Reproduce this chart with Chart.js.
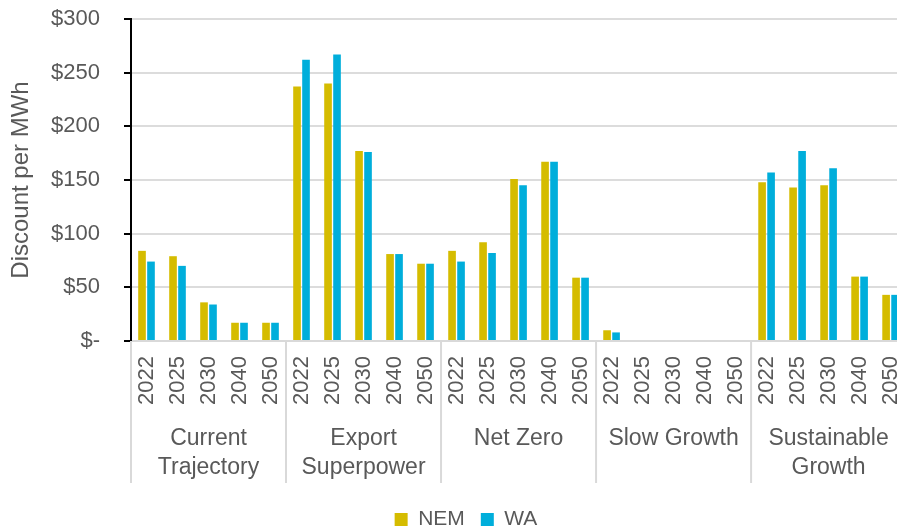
<!DOCTYPE html>
<html>
<head>
<meta charset="utf-8">
<script src="https://cdn.jsdelivr.net/npm/chart.js@4.4.1/dist/chart.umd.min.js"></script>
<style>
  html, body { margin: 0; padding: 0; background: #fff; overflow: hidden; width: 897px; height: 531px; }
  #wrap { width: 932px; height: 540px; position: relative; }
</style>
</head>
<body>
<div id="wrap"><canvas id="chart"></canvas></div>
<script>
const years = ['2022', '2025', '2030', '2040', '2050'];
const scenarios = [['Current', 'Trajectory'], ['Export', 'Superpower'], ['Net Zero'], ['Slow Growth'], ['Sustainable', 'Growth']];
const nem = [84, 79, 36, 17, 17, 237, 240, 177, 81, 72, 84, 92, 151, 167, 59, 10, 0, 0, 0, 0, 148, 143, 145, 60, 43];
const wa = [74, 70, 34, 17, 17, 262, 267, 176, 81, 72, 74, 82, 145, 167, 59, 8, 0, 0, 0, 0, 157, 177, 161, 60, 43];
const yTicks = [0, 50, 100, 150, 200, 250, 300];

// one year label per bar pair, repeated for each scenario
let labels = [];
scenarios.forEach(() => years.forEach(y => labels.push(y)));

const grey = '#595959';
Chart.defaults.font.family = "'Liberation Sans', Arial, sans-serif";
Chart.defaults.color = grey;

// scenario names and separators under the year labels
const groupLabels = {
    id: 'groupLabels',
    afterDraw(chart) {
        const x = chart.scales.x;
        const ctx = chart.ctx;
        const catW = x.getPixelForValue(1) - x.getPixelForValue(0);
        const top = x.top;
        ctx.save();
        ctx.strokeStyle = '#d9d9d9';
        ctx.lineWidth = 2;
        for (let g = 0; g <= scenarios.length; g++) {
            const bx = x.getPixelForValue(g * years.length) - catW / 2;
            ctx.beginPath();
            ctx.moveTo(bx, top);
            ctx.lineTo(bx, top + 142);
            ctx.stroke();
        }
        ctx.fillStyle = grey;
        ctx.font = "23px 'Liberation Sans', Arial, sans-serif";
        ctx.textAlign = 'center';
        ctx.textBaseline = 'middle';
        scenarios.forEach((lines, g) => {
            const cx = x.getPixelForValue(g * years.length + 2);
            lines.forEach((t, i) => ctx.fillText(t, cx, top + 98 + i * 29));
        });
        ctx.restore();
    }
};

new Chart(document.getElementById('chart'), {
    type: 'bar',
    data: {
        labels: labels,
        datasets: [
            { label: 'NEM', data: nem, backgroundColor: '#D5BC00', categoryPercentage: 0.58, barPercentage: 0.85 },
            { label: 'WA', data: wa, backgroundColor: '#00AEDB', categoryPercentage: 0.58, barPercentage: 0.85 }
        ]
    },
    options: {
        responsive: true,
        maintainAspectRatio: false,
        animation: false,
        layout: { padding: { top: 19, left: 0, right: 0, bottom: 0 } },
        plugins: {
            tooltip: { enabled: false },
            legend: {
                position: 'bottom',
                labels: { boxWidth: 13, boxHeight: 13, padding: 16, font: { size: 21 }, color: grey }
            }
        },
        scales: {
            x: {
                grid: { display: false, drawTicks: false },
                border: { display: true, color: '#d9d9d9', width: 2 },
                ticks: { minRotation: 90, maxRotation: 90, autoSkip: false, padding: 15, font: { size: 22 }, color: grey },
                afterFit: (scale) => { scale.height = 152; }
            },
            y: {
                min: 0,
                max: 300,
                afterBuildTicks: (scale) => { scale.ticks = yTicks.map(v => ({ value: v })); },
                afterFit: (scale) => {
                    scale.width = 131;
                    // tick padding would otherwise push the plot down
                    scale.paddingTop = 0;
                    scale.paddingBottom = 0;
                },
                grid: { color: '#dcdcdc', lineWidth: 2, tickColor: '#000', tickLength: 7, tickWidth: 2 },
                border: { display: true, color: '#000', width: 2 },
                ticks: {
                    padding: 24,
                    font: { size: 22 },
                    color: grey,
                    callback: (v) => v === 0 ? '$-' : '$' + v
                },
                title: { display: true, text: 'Discount per MWh', font: { size: 24 }, color: grey, padding: { top: 7, bottom: 0 } }
            }
        }
    },
    plugins: [groupLabels]
});
</script>
</body>
</html>
